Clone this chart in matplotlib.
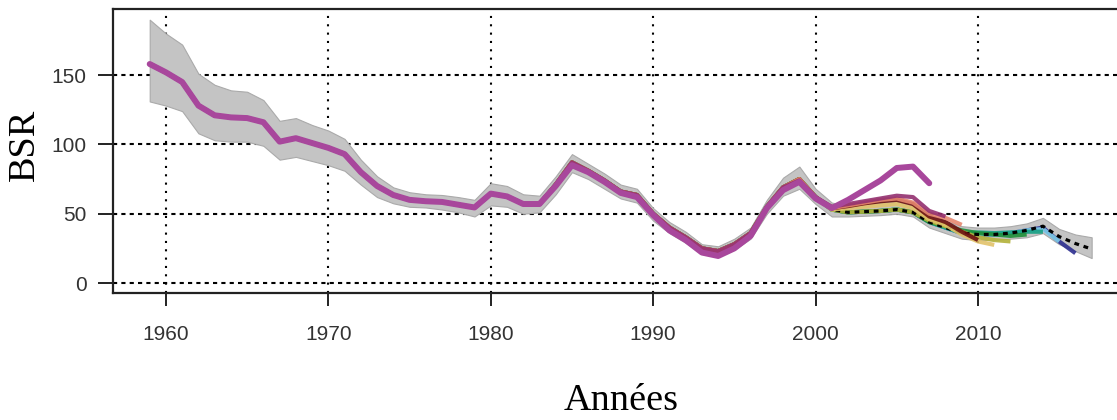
import matplotlib
matplotlib.use("Agg")
import matplotlib.pyplot as plt

# ---- data -----------------------------------------------------------------
years = list(range(1959, 2018))

# full assessment run (terminal year 2017)
bsr_base = [158, 152, 145, 128, 121, 119.5, 119, 116, 102, 104.5,
            101, 97.5, 93, 80, 70, 63.5, 60, 59, 58.5, 56.5,
            54.5, 64.5, 62.5, 57, 57, 71, 87, 81, 74, 66,
            63.5, 50, 40, 33, 25, 23, 28, 36, 55, 69,
            75, 62, 53, 51, 51.5, 52, 53, 51, 44, 40,
            36, 35, 35, 36, 38, 41, 33.5, 28.5, 24.5]

# uncertainty envelope around the full run
band_low = [131, 128, 124, 108, 103, 102, 102, 99, 89, 91,
            88, 85, 81, 71, 62, 57.5, 55, 54.5, 53, 51,
            48, 56, 55, 50, 51, 64, 80, 75, 68, 61,
            58, 45, 36, 29, 21, 19, 24, 32, 50, 63,
            68, 57, 48, 48, 48.5, 49, 50, 48, 40, 36,
            32, 31, 31, 32, 33, 36, 28, 23, 18]
band_high = [190, 180, 172, 151, 143, 139, 138, 132, 117, 119,
             114, 110, 104, 89, 77, 69, 65.5, 64, 63.5, 62,
             60, 72, 70, 64, 63, 77, 93, 86, 79, 71,
             68, 54, 44, 37, 28, 26.5, 32, 40, 60, 76,
             84, 68, 58, 56, 57, 58, 60, 57, 49, 45,
             41, 40, 40, 41, 43, 47, 39, 35, 33]

# retrospective peels: first year where the peel departs from the full run,
# then its own values up to its terminal year
peel_2008_start, peel_2008 = 1999, [74, 62, 55, 57, 59, 61, 63, 62, 52, 48]
peel_2009_start, peel_2009 = 2001, [54, 56, 58, 60, 61, 58, 50, 47, 42]
peel_2010_start, peel_2010 = 2001, [54, 55.5, 57.5, 59, 60, 57, 48, 44, 37, 31]
peel_2011_start, peel_2011 = 2001, [53, 54, 55, 56, 57, 54, 46, 42, 35, 30, 27.5]
peel_2012_start, peel_2012 = 2007, [45, 41, 37, 33, 31, 30]
peel_2013_start, peel_2013 = 2008, [41, 38, 36, 35, 34, 35]
peel_2014_start, peel_2014 = 2010, [36.5, 36, 36.5, 37, 37]
peel_2015_start, peel_2015 = 2013, [38, 39, 30]
peel_2016_start, peel_2016 = 2014, [40, 30, 21.5]

# shortest run (terminal year 2007), departing from 1984 onward
peel_2007_start = 1984
peel_2007 = [70, 85, 80, 73, 65, 62, 49, 38, 31, 22, 19.5, 25, 34, 54,
             67, 73, 61, 54, 60, 67, 74, 83, 84, 72]

peel_colors = {
    2008: "#93306f", 2009: "#e6876f", 2010: "#6b1010", 2011: "#e2c26a",
    2012: "#b3b23a", 2013: "#1f8f3a", 2014: "#17a084", 2015: "#7fcde9",
    2016: "#2b2d8f",
}
peels = {
    2008: (peel_2008_start, peel_2008), 2009: (peel_2009_start, peel_2009),
    2010: (peel_2010_start, peel_2010), 2011: (peel_2011_start, peel_2011),
    2012: (peel_2012_start, peel_2012), 2013: (peel_2013_start, peel_2013),
    2014: (peel_2014_start, peel_2014), 2015: (peel_2015_start, peel_2015),
    2016: (peel_2016_start, peel_2016),
}

x_ticks = [1960, 1970, 1980, 1990, 2000, 2010]
y_ticks = [0, 50, 100, 150]


def run_series(start, values):
    """Full-run history up to `start`, then the peel's own values."""
    base_part = [v for y, v in zip(years, bsr_base) if y < start]
    yrs = years[:len(base_part)] + list(range(start, start + len(values)))
    return yrs, base_part + list(values)


# ---- figure ---------------------------------------------------------------
W, H, DPI = 1117, 420, 100
fig = plt.figure(figsize=(W / DPI, H / DPI), dpi=DPI, facecolor="white")
ax = fig.add_axes([113 / W, (H - 293) / H, (1123 - 113) / W, (293 - 9) / H])

ax.set_xlim(1956.74, 2018.93)
ax.set_ylim(-7.2, 197.7)

# grid
for xv in x_ticks:
    ax.axvline(xv, color="black", lw=1.5, dashes=(1, 3), zorder=1)
for yv in y_ticks:
    ax.axhline(yv, color="black", lw=1.5, dashes=(2, 2), zorder=1)

# envelope
ax.fill_between(years, band_low, band_high, facecolor="#c4c4c4",
                edgecolor="#aaaaaa", lw=0.8, zorder=2)

# later peels sit beneath the full run, earlier ones above it
for end in sorted(peels, reverse=True):
    yrs, vals = run_series(*peels[end])
    z = 3 if end >= 2012 else 5
    ax.plot(yrs, vals, color=peel_colors[end], lw=3.0, alpha=0.9,
            solid_capstyle="butt", zorder=z)

# full run
ax.plot(years, bsr_base, color="black", lw=2.3, dashes=(1.5, 1.5), zorder=4)

# 2007 run on top
yrs, vals = run_series(peel_2007_start, peel_2007)
ax.plot(yrs, vals, color="#a8479c", lw=4.3, solid_capstyle="round",
        solid_joinstyle="round", zorder=6)

# axes styling
for side in ("left", "bottom", "top", "right"):
    ax.spines[side].set_linewidth(1.6)
    ax.spines[side].set_color("#222222")
ax.set_xticks(x_ticks)
ax.set_yticks(y_ticks)
ax.tick_params(axis="x", length=9, width=1.4, pad=14, labelsize=15,
               labelcolor="#333333", color="#222222")
ax.tick_params(axis="y", length=11, width=1.4, pad=8, labelsize=15,
               labelcolor="#333333", color="#222222")
for lbl in ax.get_xticklabels() + ax.get_yticklabels():
    lbl.set_family("Liberation Sans")

ax.set_ylabel("BSR", family="Liberation Serif", fontsize=27.5)
ax.yaxis.label.set_va("center")
ax.yaxis.set_label_coords(-(113 - 25) / (1123 - 113), (293 - 145) / (293 - 9))

fig.text(621 / W, 1 - 410 / H, "Années", family="Liberation Serif",
         fontsize=27.5, ha="center", va="baseline")

fig.savefig("out.png", dpi=DPI, facecolor="white")
